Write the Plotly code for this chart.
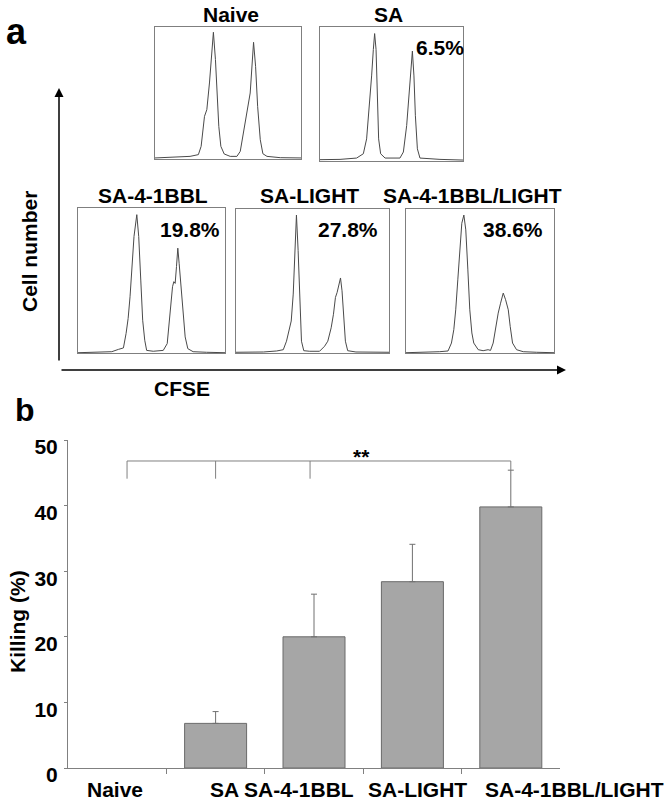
import plotly.graph_objects as go

W, H = 666, 801

# ---------------- data ----------------
groups = ["Naive", "SA", "SA-4-1BBL", "SA-LIGHT", "SA-4-1BBL/LIGHT"]
killing = [0, 6.8, 20.0, 28.4, 39.8]
killing_err = [0, 1.8, 6.5, 5.7, 5.6]
percent_labels = ["", "6.5%", "19.8%", "27.8%", "38.6%"]
y_ticks = [0, 10, 20, 30, 40, 50]
bracket_x = [0.1, 1.0, 1.96, 4.0]
bracket_top = 46.8
bracket_bottom = [44.1, 44.1, 44.1, 45.4]
signif = "**"

# CFSE histograms (x: % of box width, y: % of box height)
naive_x = [0, 13.7, 24.0, 29.7, 31.6, 33.9, 35.5, 37.3, 38.7, 40.0, 41.4, 42.8, 43.7, 45.1, 47.4,
           51.5, 56.1, 58.4, 60.6, 62.9, 65.2, 67.5, 68.9, 70.3, 72.1, 73.9, 76.7, 85.8, 100]
naive_y = [0.8, 1.5, 2.0, 3.3, 9.6, 32.3, 37.4, 57.6, 75.3, 96.0, 75.3, 42.4, 24.7, 9.6, 3.8,
           2.0, 2.0, 5.8, 19.7, 37.4, 50.0, 88.4, 70.2, 39.9, 14.6, 4.0, 2.0, 1.0, 0.8]

sa_x = [0, 14.0, 25.6, 30.3, 32.6, 34.5, 36.1, 37.3, 38.2, 39.2, 40.1, 41.0, 42.4, 45.5,
        55.9, 58.3, 60.6, 62.5, 63.4, 64.6, 65.7, 66.7, 68.1, 69.9, 83.9, 100]
sa_y = [1.0, 1.2, 2.2, 5.4, 16.5, 38.8, 63.5, 83.2, 95.1, 83.2, 46.2, 16.5, 5.4, 2.2,
        2.2, 6.7, 26.4, 51.1, 63.5, 82.0, 63.5, 33.8, 9.1, 2.2, 1.2, 0.7]

bbl_x = [0, 15.1, 23.0, 27.5, 30.9, 32.7, 34.1, 35.4, 36.8, 38.1, 40.0, 41.3, 42.7, 44.0, 45.4, 46.7,
         51.2, 58.0, 60.7, 62.5, 64.3, 65.2, 66.1, 67.0, 67.9, 68.8, 70.2, 71.6, 72.9, 74.7, 78.3, 87.4, 100]
bbl_y = [0.2, 0.5, 0.9, 2.5, 3.5, 13.4, 23.8, 38.8, 61.9, 80.4, 95.4, 80.4, 50.3, 22.6, 8.8, 1.8,
         1.2, 1.8, 6.5, 27.3, 45.7, 49.2, 48.0, 59.6, 72.3, 61.9, 45.7, 24.9, 11.1, 3.0, 0.9, 0.5, 0.2]

light_x = [0, 17.9, 26.6, 30.9, 33.0, 34.8, 36.1, 37.4, 38.4, 39.5, 40.6, 41.7, 42.8, 44.3, 48.2,
           54.6, 57.9, 60.0, 62.2, 63.7, 65.0, 66.1, 67.2, 68.3, 69.3, 70.4, 71.5, 73.0, 78.4, 100]
light_y = [0.5, 0.7, 1.4, 2.3, 8.2, 17.5, 22.2, 40.9, 71.3, 95.8, 71.3, 31.5, 8.2, 1.6, 1.2,
           1.2, 4.7, 8.2, 17.5, 26.9, 38.6, 42.1, 46.7, 52.1, 43.2, 24.5, 8.2, 1.6, 0.7, 0.5]

both_x = [0, 13.8, 22.8, 28.4, 30.7, 32.3, 33.6, 35.0, 36.3, 37.7, 39.1, 40.4, 41.8, 43.1, 44.5, 45.8,
          48.8, 52.1, 55.5, 57.1, 58.9, 60.7, 62.3, 63.9, 65.7, 67.3, 69.1, 70.4, 72.0, 74.7, 79.2, 88.3, 100]
both_y = [0.2, 0.5, 0.9, 1.4, 6.9, 16.2, 30.0, 50.8, 73.9, 90.1, 95.8, 85.5, 57.7, 30.0, 13.9, 6.9,
          2.3, 1.6, 2.3, 1.8, 6.9, 18.5, 27.7, 34.6, 41.6, 37.0, 30.0, 18.5, 6.9, 2.3, 0.9, 0.5, 0.2]

hist_x = [naive_x, sa_x, bbl_x, light_x, both_x]
hist_y = [naive_y, sa_y, bbl_y, light_y, both_y]

# ---------------- layout helpers ----------------
FONT = "Liberation Sans, Arial, sans-serif"


def px(x):
    return x / W


def py(y):
    return 1 - y / H


def bold(size):
    return dict(family=FONT, size=size, color="black", weight="bold")


def text_ann(text, x, y, size=21, xanchor="center", angle=0):
    return dict(text=text, x=px(x), y=py(y), xref="paper", yref="paper", showarrow=False,
                xanchor=xanchor, yanchor="middle", textangle=angle, borderpad=0,
                font=bold(size))


# histogram box positions in pixels: left, right, top, bottom
boxes = [(155, 301, 27, 159), (320, 463, 27, 161),
         (78, 225, 208, 353), (236, 389, 209, 353), (406, 554, 209, 353)]
title_pos = [(231, 14), (388, 14), (153, 195), (309, 195), (472, 195)]
pct_pos = [None, (465, 47), (221, 229), (379, 229), (544, 229)]

fig = go.Figure()

# ---------------- panel b: bar chart ----------------
xs = list(range(len(groups)))
fig.add_trace(go.Bar(
    x=xs, y=killing, width=0.63,
    marker=dict(color="#a6a6a6",
                line=dict(color="#6a6a6a", width=[0 if v == 0 else 1 for v in killing])),
    xaxis="x", yaxis="y", showlegend=False, hoverinfo="x+y"))

# upper error bars (only for groups with a non-zero value)
nz = [i for i, v in enumerate(killing) if v > 0]
fig.add_trace(go.Scatter(
    x=[xs[i] for i in nz], y=[killing[i] for i in nz], mode="markers",
    marker=dict(size=1, opacity=0),
    error_y=dict(type="data", symmetric=False, array=[killing_err[i] for i in nz],
                 arrayminus=[0] * len(nz), color="#707070", thickness=1, width=3),
    xaxis="x", yaxis="y", showlegend=False, hoverinfo="skip"))

layout = dict(
    template="none",
    width=W, height=H, margin=dict(l=0, r=0, t=0, b=0, autoexpand=False),
    paper_bgcolor="white", plot_bgcolor="white", showlegend=False,
    xaxis=dict(domain=[px(68), px(560)], range=[-0.5, 4.5], anchor="y",
               showline=True, linecolor="#808080", linewidth=1,
               tickvals=[0.5, 1.5, 2.5, 3.5], ticktext=["", "", "", ""],
               ticks="outside", ticklen=5, tickcolor="#808080", tickwidth=1,
               showgrid=False, zeroline=False, automargin=False),
    yaxis=dict(domain=[py(768), py(440)], range=[0, 50], anchor="x",
               showline=True, linecolor="#808080", linewidth=1,
               tickvals=y_ticks, ticks="outside", ticklen=3, tickcolor="#808080", tickwidth=1,
               tickfont=bold(21), ticklabelshift=7, ticklabelstandoff=2,
               showgrid=False, zeroline=False, automargin=False),
)

shapes = []
# significance bracket
shapes.append(dict(type="line", xref="x", yref="y", x0=bracket_x[0], x1=bracket_x[-1],
                   y0=bracket_top, y1=bracket_top, line=dict(color="#808080", width=1)))
for bx, bb in zip(bracket_x, bracket_bottom):
    shapes.append(dict(type="line", xref="x", yref="y", x0=bx, x1=bx,
                       y0=bracket_top, y1=bb, line=dict(color="#808080", width=1)))

annotations = []

# x category labels (typed as free text under the axis)
label_pos = [115, 224, 299, 418, 574]
for g, lx in zip(groups, label_pos):
    annotations.append(text_ann(g, lx, 789))

annotations.append(text_ann(signif, 361, 457))
annotations.append(text_ann("Killing (%)", 17, 622, angle=-90))
annotations.append(text_ann("b", 25, 410, size=32))

# ---------------- panel a: histograms ----------------
for i in range(5):
    k = i + 2
    l, r, t, b = boxes[i]
    fig.add_trace(go.Scatter(x=hist_x[i], y=hist_y[i], mode="lines",
                             line=dict(color="#4a4a4a", width=1),
                             xaxis=f"x{k}", yaxis=f"y{k}", showlegend=False, hoverinfo="skip"))
    layout[f"xaxis{k}"] = dict(domain=[px(l), px(r)], range=[0, 100], anchor=f"y{k}",
                               showline=True, mirror=True, linecolor="#7f7f7f", linewidth=1,
                               showticklabels=False, ticks="", showgrid=False, zeroline=False)
    layout[f"yaxis{k}"] = dict(domain=[py(b), py(t)], range=[0, 100], anchor=f"x{k}",
                               showline=True, mirror=True, linecolor="#7f7f7f", linewidth=1,
                               showticklabels=False, ticks="", showgrid=False, zeroline=False)
    tx, ty = title_pos[i]
    annotations.append(text_ann(groups[i], tx, ty))
    if percent_labels[i]:
        qx, qy = pct_pos[i]
        annotations.append(text_ann(percent_labels[i], qx, qy, xanchor="right"))

annotations.append(text_ann("a", 16, 32, size=36))
annotations.append(text_ann("Cell number", 29, 252, angle=-90))
annotations.append(text_ann("CFSE", 182, 388))
# axis arrows
annotations.append(dict(text="", x=px(59), y=py(88), xref="paper", yref="paper",
                        showarrow=True, ax=0, ay=274, axref="pixel", ayref="pixel",
                        arrowhead=2, arrowsize=1.2, arrowwidth=1.5, arrowcolor="black",
                        standoff=0, startstandoff=0))
annotations.append(dict(text="", x=px(566), y=py(370), xref="paper", yref="paper",
                        showarrow=True, ax=-506, ay=0, axref="pixel", ayref="pixel",
                        arrowhead=2, arrowsize=1.2, arrowwidth=1.5, arrowcolor="black",
                        standoff=0, startstandoff=0))

layout["shapes"] = shapes
layout["annotations"] = annotations
fig.update_layout(**layout)

# remove the browser's default page margin so the figure sits at the window's corner
fig.write_html("out.html", config={"displayModeBar": False},
               post_script="document.body.style.margin='0';document.body.style.overflow='hidden';")
